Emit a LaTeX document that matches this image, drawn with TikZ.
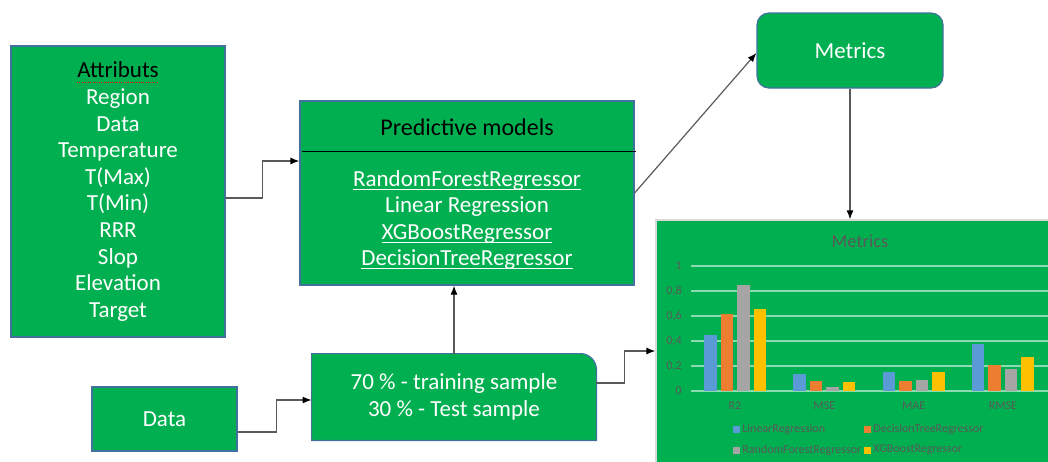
\documentclass[tikz,border=0pt]{standalone}
\usepackage{fontspec}
\setmainfont{Carlito}
\usetikzlibrary{arrows.meta}

\definecolor{boxgreen}{HTML}{00B050}
\definecolor{boxedge}{HTML}{41719C}
\definecolor{linkgray}{HTML}{5A5A5A}
\definecolor{chartgray}{HTML}{595959}
\definecolor{barblue}{HTML}{5B9BD5}
\definecolor{barorange}{HTML}{ED7D31}
\definecolor{bargray}{HTML}{A5A5A5}
\definecolor{baryellow}{HTML}{FFC000}

% plain underline and red dotted mark under a word
\newsavebox\wordbox
\newcommand\lineunder[1]{\sbox\wordbox{#1}\rlap{\usebox\wordbox}\rule[-0.3ex]{\wd\wordbox}{0.45pt}}
\newcommand\spellline[1]{\sbox\wordbox{#1}\rlap{\usebox\wordbox}\textcolor{red}{\hbox to \wd\wordbox{\xleaders\hbox{\rule[-0.45ex]{0.5pt}{0.4pt}\kern0.6pt}\hfill}}}

\begin{document}
\begin{tikzpicture}[x=0.5pt, y=-0.5pt,
	block/.style={draw=boxedge, line width=0.6pt, fill=boxgreen, inner sep=0pt, text=white, align=center, font=\fontsize{11.5}{13.3}\selectfont},
	link/.style={draw=linkgray, line width=0.6pt, -{Latex[length=4.5pt,width=3.5pt,color=black]}},
	ticklabel/.style={text=chartgray, font=\fontsize{6}{7}\selectfont, inner sep=0pt},
	gridline/.style={draw=boxgreen!45!white, line width=0.6pt}]
\useasboundingbox (0,0) rectangle (1048,461);
\clip (0,0) rectangle (1048,461);

	\node [block, minimum width=107pt, minimum height=145.5pt] (attr) at (118,191.5)
		{\textcolor{black}{\spellline{Attributs}}\\Region\\Data\\Temperature\\T(Max)\\T(Min)\\RRR\\Slop\\Elevation\\Target};

	\node [block, minimum width=167pt, minimum height=92pt] (pred) at (467,193){};
	\node [inner sep=0pt, font=\fontsize{12}{14}\selectfont] (predtitle) at (467,127){Predictive models};
	\node [inner sep=0pt, text=white, align=center, font=\fontsize{11.5}{13.3}\selectfont] (predlist) at (467,220)
		{\lineunder{RandomForestRegressor}\\Linear Regression\\\lineunder{XGBoostRegressor}\\\lineunder{DecisionTreeRegressor}};
	\draw [black, line width=0.5pt] (302,151) -- (636,151);

	\node [block, minimum width=72.5pt, minimum height=32pt] (data) at (164.5,419){Data};

	\node [inner sep=0pt, minimum width=142pt, minimum height=43pt] (split) at (454,397){};
	\filldraw [draw=boxedge, line width=0.6pt, fill=boxgreen] (split.south west) -- (split.north west)
		-- ([xshift=-8pt]split.north east) arc [start angle=90, end angle=0, radius=8pt] -- (split.south east) -- cycle;
	\node [inner sep=0pt, text=white, align=center, font=\fontsize{11.5}{13.3}\selectfont] (splittext) at (split)
		{70 \% - training sample\\30 \% - Test sample};

	\node [block, rounded corners=6pt, minimum width=93pt, minimum height=37.5pt] (metrics) at (850,50.5){Metrics};

	% bar chart of the scores
	\node [draw=black!15, line width=0.6pt, fill=boxgreen, inner sep=0pt, minimum width=197pt, minimum height=121.5pt] (chart) at (853,341.5){};
	\node [text=chartgray, inner sep=0pt, font=\fontsize{9.2}{11}\selectfont] (charttitle) at (860,241){Metrics};
\foreach \v/\lab in {0/0, 0.2/{0,2}, 0.4/{0,4}, 0.6/{0,6}, 0.8/{0,8}, 1/1}{
	\draw [gridline] (691,391-125*\v) -- (1050,391-125*\v);
	\node [ticklabel, anchor=east] at (682,391-125*\v){\lab};
}
\foreach \name/\a/\b/\c/\d [count=\i from 0] in {R2/0.45/0.62/0.85/0.66, MSE/0.14/0.08/0.03/0.07, MAE/0.15/0.08/0.09/0.15, RMSE/0.38/0.21/0.18/0.27}{
	\node [ticklabel] at (735+89.3*\i,406){\name};
	\foreach \v/\col [count=\j from 0] in {\a/barblue, \b/barorange, \c/bargray, \d/baryellow}
		\fill [\col] (735+89.3*\i+16.5*\j-31,391) rectangle ++(12.5,-125*\v);
}
\foreach \col/\lab/\x/\y in {barblue/LinearRegression/733/429, barorange/DecisionTreeRegressor/864/429, bargray/RandomForestRegressor/733/450, baryellow/XGBoostRegressor/864/450}{
	\fill [\col] (\x,\y-3.5) rectangle ++(7,7);
	\node [ticklabel, anchor=west] at (\x+9,\y){\lab};
}

	\draw [link] ([yshift=-3.25pt]attr.east) -- ++(18.5pt,0) |- ([yshift=16pt]pred.west);
	\draw [link] ([yshift=-6.5pt]data.east) -- ++(19.5pt,0) |- ([yshift=-1.5pt]split.west);
	\draw [link] (split.north) -- (split.north |- pred.south);
	\draw [link] ([yshift=7pt]split.east) -- ++(14pt,0) |- ([yshift=-4.75pt]chart.west);
	\draw [link] (pred.east) -- ([yshift=-1.25pt]metrics.west);
	\draw [link] (metrics.south) -- (metrics.south |- chart.north);
\end{tikzpicture}
\end{document}
